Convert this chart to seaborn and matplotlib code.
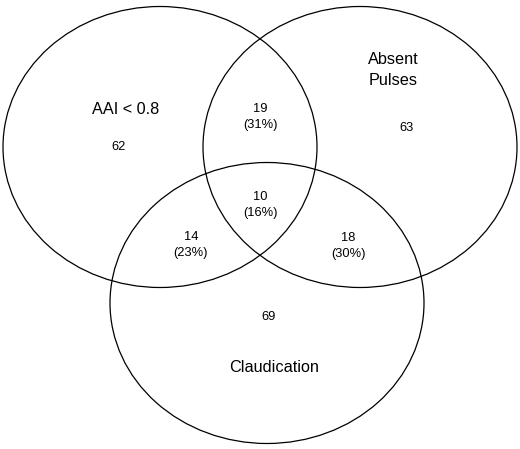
import matplotlib
matplotlib.use("Agg")
import matplotlib.pyplot as plt
from matplotlib.patches import Ellipse
import seaborn as sns

# Set names and region counts
set_names = ["AAI < 0.8", "Absent\nPulses", "Claudication"]
only_counts = [62, 63, 69]
pair_counts = [19, 14, 18]          # AAI&Pulses, AAI&Claud, Pulses&Claud
pair_pcts = [31, 23, 30]
triple_count = 10
triple_pct = 16

sns.set_style("white")
plt.rcParams["font.family"] = ["Liberation Sans", "DejaVu Sans"]

fig = plt.figure(figsize=(5.2, 4.49), dpi=100)
ax = fig.add_axes([0, 0, 1, 1])
ax.set_xlim(0, 520)
ax.set_ylim(449, 0)
ax.axis("off")

# Ellipse layout (pixel coords)
centers = [(160, 147), (360, 147), (267, 303)]
width, height = 314, 281
for c in centers:
    ax.add_patch(Ellipse(c, width, height, fill=False, edgecolor="black", lw=0.9))

# Set labels
label_pos = [(126, 109), (393, 70), (274, 368)]
for name, (x, y) in zip(set_names, label_pos):
    ax.text(x, y, name, ha="center", va="center", fontsize=11.7,
            linespacing=1.45, color="black")

# Single-set counts
only_pos = [(119, 147), (407, 128), (269, 317)]
for n, (x, y) in zip(only_counts, only_pos):
    ax.text(x, y, str(n), ha="center", va="center", fontsize=9.3, color="black")

# Pairwise overlaps
pair_pos = [(260, 117), (191, 245), (348, 246)]
for n, p, (x, y) in zip(pair_counts, pair_pcts, pair_pos):
    ax.text(x, y, f"{n}\n({p}%)", ha="center", va="center", fontsize=9.3,
            linespacing=1.35, color="black")

# Centre
ax.text(260, 205, f"{triple_count}\n({triple_pct}%)", ha="center", va="center",
        fontsize=9.3, linespacing=1.35, color="black")

fig.savefig("out.png", dpi=100, facecolor="white")
